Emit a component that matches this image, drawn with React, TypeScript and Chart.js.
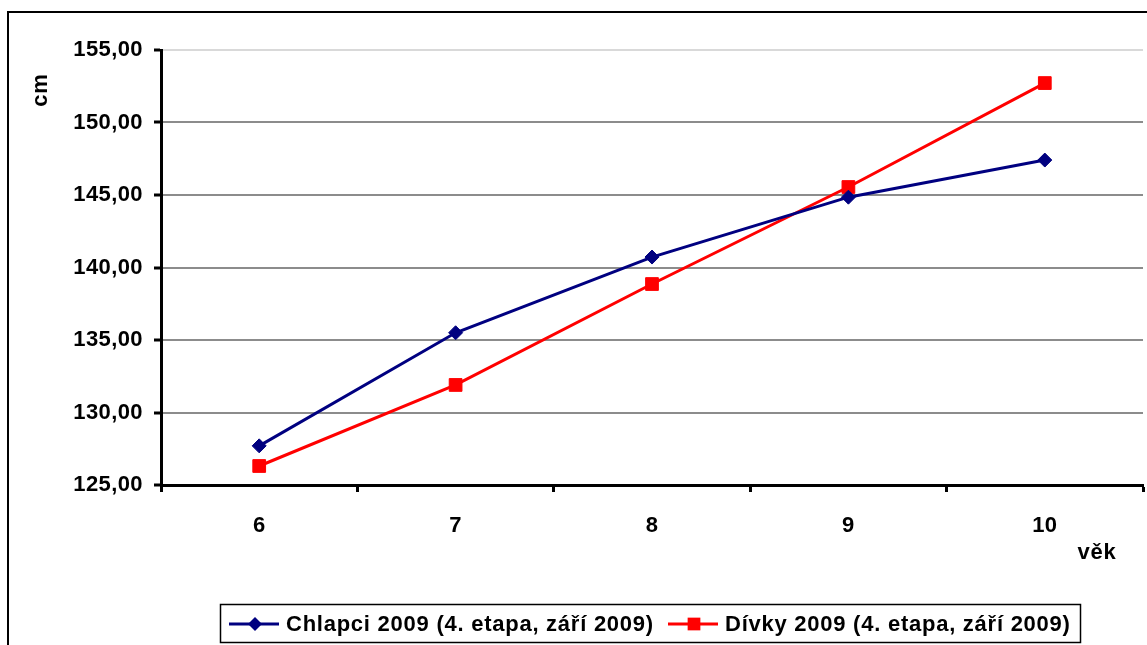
import React, { useEffect, useRef } from "react";
import { Chart, registerables } from "chart.js";

Chart.register(...registerables);

const ages = ["6", "7", "8", "9", "10"];
const boys = [127.7, 135.5, 140.72, 144.85, 147.41];
const girls = [126.31, 131.9, 138.86, 145.55, 152.72];
const boysLabel = "Chlapci 2009 (4. etapa, září 2009)";
const girlsLabel = "Dívky 2009 (4. etapa, září 2009)";
const yMin = 125;
const yMax = 155;
const yStep = 5;
const yTitle = "cm";
const xTitle = "věk";

const FONT = "'Liberation Sans', Arial, sans-serif";
const NAVY = "#000080";
const RED = "#ff0000";

function drawMarker(ctx: CanvasRenderingContext2D, style: string, x: number, y: number, r: number) {
  ctx.beginPath();
  if (style === "rectRot") {
    ctx.moveTo(x, y - r);
    ctx.lineTo(x + r, y);
    ctx.lineTo(x, y + r);
    ctx.lineTo(x - r, y);
    ctx.closePath();
  } else {
    const s = Math.SQRT1_2 * r;
    ctx.rect(x - s, y - s, 2 * s, 2 * s);
  }
  ctx.fill();
}

// slightly spaced lettering for axis tick labels
const spacing = {
  id: "spacing",
  beforeDraw(chart: any) {
    (chart.ctx as any).letterSpacing = "0.4px";
  },
};

const decorations = {
  id: "decorations",
  afterDraw(chart: any) {
    const ctx = chart.ctx;
    ctx.save();
    // outer frame
    ctx.strokeStyle = "#000";
    ctx.lineWidth = 2;
    ctx.strokeRect(8, 12, 1300, 800);

    // axis titles
    ctx.fillStyle = "#000";
    ctx.letterSpacing = "0.8px";
    ctx.font = `bold 22px ${FONT}`;
    ctx.textAlign = "center";
    ctx.textBaseline = "middle";
    ctx.save();
    ctx.translate(41, 90);
    ctx.rotate(-Math.PI / 2);
    ctx.fillText(yTitle, 0, 0);
    ctx.restore();
    ctx.fillText(xTitle, 1097, 553);

    // legend box
    ctx.lineWidth = 1.5;
    ctx.strokeRect(220.5, 604.5, 860, 38);
    const cy = 624;
    const entries = [
      { x: 229, label: boysLabel, color: NAVY, style: "rectRot", r: 7 },
      { x: 668, label: girlsLabel, color: RED, style: "rect", r: 9 },
    ];
    ctx.letterSpacing = "0.75px";
    ctx.font = `bold 22px ${FONT}`;
    ctx.textAlign = "left";
    for (const e of entries) {
      ctx.strokeStyle = e.color;
      ctx.lineWidth = 3;
      ctx.beginPath();
      ctx.moveTo(e.x, cy);
      ctx.lineTo(e.x + 50, cy);
      ctx.stroke();
      ctx.fillStyle = e.color;
      drawMarker(ctx, e.style, e.x + 26, cy, e.r);
      ctx.fillStyle = "#000";
      ctx.fillText(e.label, e.x + 57, cy + 1);
    }
    ctx.restore();
  },
};

export default function App() {
  const ref = useRef<HTMLCanvasElement | null>(null);

  useEffect(() => {
    if (!ref.current) return;
    const chart = new Chart(ref.current, {
      type: "line",
      data: {
        labels: ages,
        datasets: [
          {
            label: boysLabel,
            data: boys,
            borderColor: NAVY,
            backgroundColor: NAVY,
            borderWidth: 3,
            pointStyle: "rectRot",
            pointRadius: 7,
            pointBorderWidth: 1,
            tension: 0,
          },
          {
            label: girlsLabel,
            data: girls,
            borderColor: RED,
            backgroundColor: RED,
            borderWidth: 3,
            pointStyle: "rect",
            pointRadius: 9,
            pointBorderWidth: 1,
            tension: 0,
          },
        ],
      },
      options: {
        responsive: false,
        animation: false,
        devicePixelRatio: 1,
        layout: { autoPadding: false, padding: { left: 0, top: 50, right: 4, bottom: 0 } },
        plugins: {
          legend: { display: false },
          tooltip: { enabled: false },
        },
        scales: {
          x: {
            type: "category",
            offset: true,
            afterFit(scale: any) {
              scale.height = 160;
            },
            grid: {
              offset: true,
              drawOnChartArea: false,
              drawTicks: true,
              tickLength: 7,
              tickColor: "#000",
              tickWidth: 3,
            },
            border: { display: true, color: "#000", width: 3 },
            ticks: {
              color: "#000",
              font: { family: FONT, size: 22, weight: "bold" },
              padding: 21,
              maxRotation: 0,
            },
          },
          y: {
            min: yMin,
            max: yMax,
            afterFit(scale: any) {
              scale.width = 161;
            },
            grid: {
              color: (c: any) => (c.tick && c.tick.value === yMax ? "#d9d9d9" : "#8c8c8c"),
              lineWidth: 2,
              drawTicks: true,
              tickLength: 7,
              tickColor: "#000",
              tickWidth: 3,
            },
            border: { display: true, color: "#000", width: 3 },
            ticks: {
              stepSize: yStep,
              color: "#000",
              font: { family: FONT, size: 22, weight: "bold" },
              padding: 11,
              callback: (v: any) => Number(v).toFixed(2).replace(".", ","),
            },
          },
        },
      },
      plugins: [spacing, decorations],
    } as any);
    return () => chart.destroy();
  }, []);

  return (
    <div style={{ position: "absolute", left: 0, top: 0, width: 1147, height: 645, background: "#fff" }}>
      <canvas ref={ref} width={1147} height={645} style={{ display: "block" }} />
    </div>
  );
}
